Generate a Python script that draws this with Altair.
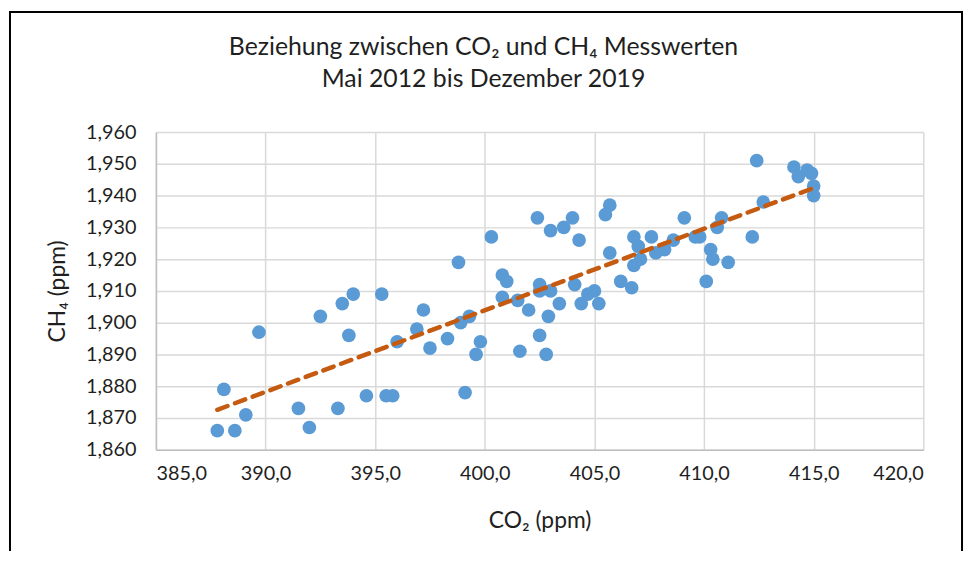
import altair as alt
import pandas as pd

co2 = [387.8, 388.6, 388.1, 389.1, 389.7, 391.5, 392.0, 392.5, 393.3, 393.5,
       394.0, 393.8, 394.6, 395.3, 395.5, 395.8, 396.0, 396.9, 397.2, 397.5,
       398.3, 398.8, 398.9, 399.3, 399.1, 399.8, 399.6, 400.3, 400.8, 401.0,
       400.8, 401.5, 402.0, 401.6, 402.4, 402.5, 402.5, 402.5, 402.8, 403.0,
       403.0, 402.9, 403.4, 403.6, 404.0, 404.3, 404.1, 404.4, 404.7, 405.0,
       405.2, 405.5, 405.7, 405.7, 406.2, 406.7, 406.8, 407.0, 407.1, 406.8,
       407.6, 407.8, 408.2, 408.6, 409.1, 409.6, 409.8, 410.1, 410.3, 410.4,
       410.6, 410.8, 411.1, 412.2, 412.7, 412.4, 414.1, 414.3, 414.7, 414.9,
       415.0, 415.0]
ch4 = [1866, 1866, 1879, 1871, 1897, 1873, 1867, 1902, 1873, 1906,
       1909, 1896, 1877, 1909, 1877, 1877, 1894, 1898, 1904, 1892,
       1895, 1919, 1900, 1902, 1878, 1894, 1890, 1927, 1915, 1913,
       1908, 1907, 1904, 1891, 1933, 1912, 1910, 1896, 1890, 1929,
       1910, 1902, 1906, 1930, 1933, 1926, 1912, 1906, 1909, 1910,
       1906, 1934, 1937, 1922, 1913, 1911, 1927, 1924, 1920, 1918,
       1927, 1922, 1923, 1926, 1933, 1927, 1927, 1913, 1923, 1920,
       1930, 1933, 1919, 1927, 1938, 1951, 1949, 1946, 1948, 1947,
       1943, 1940]

x_ticks = [385, 390, 395, 400, 405, 410, 415, 420]
y_ticks = [1860, 1870, 1880, 1890, 1900, 1910, 1920, 1930, 1940, 1950, 1960]

title_lines = ["Beziehung zwischen CO₂ und CH₄ Messwerten", "Mai 2012 bis Dezember 2019"]
x_title = "CO₂ (ppm)"
y_title = "CH₄ (ppm)"

df = pd.DataFrame({"co2": co2, "ch4": ch4})

FONT = "Lato"
TXT = "#1f1f1f"

x_axis = alt.Axis(values=x_ticks, title=x_title,
                  labelExpr="replace(format(datum.value, '.1f'), '.', ',')",
                  labelFontSize=20, titleFontSize=23, labelPadding=14,
                  titlePadding=26, labelFont=FONT, titleFont=FONT,
                  labelColor=TXT, titleColor=TXT, titleFontWeight="normal",
                  labelOverlap=False,
                  ticks=False, domainColor="#bfbfbf", domainWidth=1.5,
                  gridColor="#d9d9d9", gridWidth=1.5)
y_axis = alt.Axis(values=y_ticks, title=y_title, format=",.0f",
                  labelFontSize=20, titleFontSize=23, labelPadding=20,
                  titleX=-87, labelFont=FONT, titleFont=FONT,
                  labelColor=TXT, titleColor=TXT, titleFontWeight="normal",
                  labelOverlap=False,
                  ticks=False, domainColor="#bfbfbf", domainWidth=1.5,
                  gridColor="#d9d9d9", gridWidth=1.5)
x_scale = alt.Scale(domain=[385, 420], nice=False, zero=False)
y_scale = alt.Scale(domain=[1860, 1960], nice=False, zero=False)

points = alt.Chart(df).mark_circle(size=190, color="#5B9BD5", opacity=1).encode(
    x=alt.X("co2:Q", scale=x_scale, axis=x_axis),
    y=alt.Y("ch4:Q", scale=y_scale, axis=y_axis))

trend = alt.Chart(df).transform_regression("co2", "ch4").mark_line(
    color="#C55A11", strokeWidth=4.5, strokeDash=[11, 8], strokeCap="round"
).encode(x=alt.X("co2:Q", scale=x_scale, axis=x_axis),
         y=alt.Y("ch4:Q", scale=y_scale, axis=y_axis))

border = alt.Chart(alt.Data(values=[{"a": 1}])).mark_rect(
    fillOpacity=0, stroke="black", strokeWidth=2
).encode(x=alt.value(-147), x2=alt.value(812), y=alt.value(-121), y2=alt.value(440))

title = alt.Chart(alt.Data(values=[{"a": 1}])).mark_text(
    text=title_lines, font=FONT, fontSize=25, color=TXT, align="center",
    baseline="middle", lineHeight=33
).encode(x=alt.value(330), y=alt.value(-86))

chart = alt.layer(points, trend, border, title).properties(
    width=773, height=320,
    autosize=alt.AutoSizeParams(type="none"),
    padding={"left": 149, "top": 123, "right": 42, "bottom": 100},
).configure_view(strokeWidth=0)

chart.save("out.html", embed_options={"renderer": "svg", "actions": False})
